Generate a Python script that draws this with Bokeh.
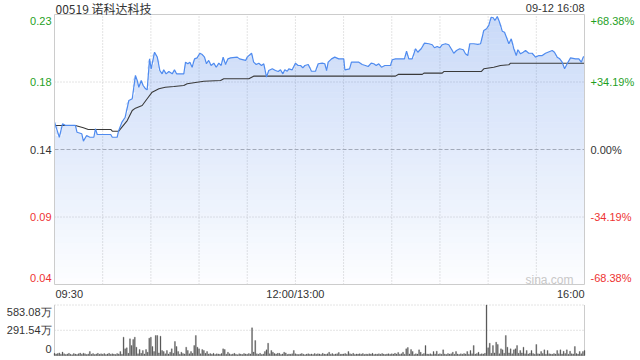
import numpy as np
from bokeh.plotting import figure
from bokeh.models import Range1d
from bokeh.core.properties import value
from bokeh.embed import file_html
from bokeh.resources import INLINE

# ---------------- data ----------------
title_text = "00519 诺科达科技"
stamp_text = "09-12 16:08"
prev_close = 0.137
pct_max = 0.6838          # axis half-range (+/-68.38%)

# minutes since 09:30 on a compressed session axis (12:00/13:00 at 150, 16:00 at 330)
price_min = [0, 3, 5, 7, 13, 14, 17, 18, 20, 22, 24.5, 25.5, 26.6, 35, 36, 39, 40, 42, 44, 46.3,
             48.4, 50.4, 51.5, 52.5, 54, 55.2, 56.7, 57.7, 59.2, 60.2, 62.3, 64, 65.6, 67, 68, 69.5,
             71.2, 73.3, 74.7, 76, 80.5, 81.6, 83, 84.3, 85.7, 87.2, 88.8, 90.5, 92, 93.4, 94.6, 96,
             97.5, 99.2, 100.7, 102.3, 103.8, 105, 106.5, 108, 109.6, 113.8, 115.2, 119, 120, 122.7,
             124, 125.6, 127.2, 128.9, 130.3, 131.4, 132, 133.4, 135.6, 137.6, 139.3, 140.7, 142.2,
             143.4, 144.9, 145.9, 148, 150, 151.7, 153.2, 154.6, 155.9, 158, 160, 162.5, 164.2, 166.7,
             168.3, 169.4, 170.4, 172.5, 174.5, 177, 180.1, 180.8, 183.7, 184.9, 189.5, 191.6, 193.6,
             195.3, 197.2, 198.8, 200.3, 201.9, 203.6, 205.7, 209.2, 210.3, 212.3, 215.4, 217.9, 219.2,
             220.6, 222.7, 224.8, 226.2, 228.3, 230.4, 233.1, 235.2, 236.6, 238.3, 239.9, 241.4, 243.5,
             245.5, 247, 248.6, 250.3, 252.3, 254.5, 255.9, 257.3, 258.6, 261.1, 263.6, 265.3, 266.3,
             267.3, 269, 270.4, 271.9, 273.2, 274.2, 275.7, 277.1, 278.8, 280.2, 281.4, 282.9, 284.4,
             286, 287.5, 288.5, 290.2, 291.8, 293.3, 295.3, 297.4, 299.5, 301.6, 303.7, 305.7, 309.9,
             311.3, 313, 314.6, 316.1, 317.6, 319.2, 321.3, 324.4, 326.5, 328, 329.2, 330]
price_val = [0.1560, 0.1455, 0.1548, 0.1537, 0.1537, 0.1490, 0.1479, 0.1428, 0.1467, 0.1455, 0.1455,
             0.1514, 0.1474, 0.1474, 0.1455, 0.1455, 0.1502, 0.1560, 0.1594, 0.1710, 0.1722, 0.1884,
             0.1849, 0.1802, 0.1849, 0.1814, 0.1791, 0.1784, 0.1999, 0.1930, 0.2045, 0.2011, 0.1918,
             0.1895, 0.1923, 0.1895, 0.1911, 0.1895, 0.1923, 0.1895, 0.1895, 0.1976, 0.1965, 0.1976,
             0.1941, 0.1999, 0.2006, 0.2038, 0.2029, 0.2011, 0.1965, 0.1988, 0.1953, 0.1969, 0.1941,
             0.1969, 0.1953, 0.2011, 0.1960, 0.1999, 0.2006, 0.2011, 0.1999, 0.1988, 0.2011, 0.2038,
             0.1976, 0.1960, 0.1969, 0.1953, 0.1965, 0.1906, 0.1872, 0.1918, 0.1930, 0.1918, 0.1911,
             0.1923, 0.1895, 0.1923, 0.1913, 0.1930, 0.1923, 0.1969, 0.1953, 0.1953, 0.1937, 0.1953,
             0.1960, 0.1913, 0.1913, 0.1965, 0.1969, 0.1965, 0.1918, 0.1976, 0.1999, 0.2011, 0.1999,
             0.1999, 0.1923, 0.1930, 0.1976, 0.1976, 0.1960, 0.1953, 0.1946, 0.1969, 0.1965, 0.1953,
             0.1965, 0.1941, 0.1953, 0.1953, 0.1993, 0.1999, 0.1999, 0.1999, 0.2052, 0.1999, 0.1999,
             0.2069, 0.2045, 0.2069, 0.2108, 0.2104, 0.2097, 0.2076, 0.2085, 0.2076, 0.2097, 0.2104,
             0.2097, 0.2069, 0.2038, 0.2057, 0.2069, 0.2062, 0.2034, 0.2022, 0.2104, 0.2104, 0.2099,
             0.2104, 0.2149, 0.2196, 0.2208, 0.2231, 0.2288, 0.2284, 0.2265, 0.2293, 0.2253, 0.2191,
             0.2184, 0.2149, 0.2104, 0.2138, 0.2069, 0.2022, 0.2062, 0.2034, 0.2045, 0.2057, 0.2038,
             0.2038, 0.2011, 0.2022, 0.2022, 0.2038, 0.2057, 0.2045, 0.2011, 0.1999, 0.1976, 0.1930,
             0.1965, 0.2006, 0.1999, 0.1999, 0.1976, 0.2011, 0.2015]

avg_min = [0, 13, 18, 21, 35, 36, 40, 42, 45.3, 48.4, 50.4, 54.6, 57.7, 60.8, 65, 69, 74.3, 80.5,
           82.6, 88.8, 93, 103.4, 105.4, 121, 124, 212.3, 214, 229, 230, 241.4, 242.4, 265.7, 267.3,
           273.5, 277.7, 282.9, 284, 330]
avg_val = [0.1537, 0.1537, 0.1521, 0.1509, 0.1509, 0.1497, 0.1497, 0.1525, 0.1571, 0.1641, 0.1657,
           0.1675, 0.1722, 0.1768, 0.1791, 0.1802, 0.1807, 0.1814, 0.1826, 0.1837, 0.1844, 0.1849,
           0.1861, 0.1861, 0.1879, 0.1879, 0.1891, 0.1891, 0.1900, 0.1900, 0.1911, 0.1911, 0.1930,
           0.1941, 0.1953, 0.1958, 0.1969, 0.1969]

# volume per minute (万股)
volume = [25, 18, 22, 30, 15, 40, 20, 12, 18, 25, 14, 10, 22, 16, 12, 20, 28, 15, 27, 20, 12, 18, 46, 15, 22, 12, 18, 25, 14, 20,
          15, 22, 12, 18, 25, 14, 20, 16, 12, 22, 18, 46, 15, 212, 77, 89, 25, 193, 115, 185, 212, 96, 20, 69, 25, 58, 18, 69, 38, 200,
          212, 104, 46, 231, 231, 30, 223, 58, 46, 20, 58, 18, 38, 77, 25, 162, 104, 46, 15, 38, 22, 18, 96, 58, 20, 46, 25, 115, 231, 96,
          77, 20, 69, 58, 25, 46, 18, 22, 15, 25, 12, 20, 18, 14, 22, 77, 69, 15, 38, 20, 12, 18, 25, 14, 10, 20, 16, 12, 22, 18,
          15, 22, 18, 320, 40, 173, 20, 15, 25, 12, 18, 46, 65, 142, 20, 58, 38, 22, 18, 25, 25, 12, 18, 38, 30, 12, 18, 15, 20, 58,
          20, 14, 12, 18, 22, 15, 10, 16, 20, 14, 18, 12, 22, 15, 20, 18, 12, 25, 16, 14, 20, 38, 15, 22, 12, 18, 20, 35, 14, 16,
          18, 22, 15, 46, 20, 14, 25, 12, 18, 16, 20, 15, 22, 12, 18, 14, 20, 16, 25, 12, 18, 15, 20, 14, 22, 16, 12, 18, 20, 15,
          20, 16, 25, 18, 35, 14, 20, 38, 15, 77, 92, 18, 69, 46, 12, 20, 16, 65, 38, 14, 22, 115, 18, 15, 20, 12, 46, 18, 50, 14,
          20, 15, 65, 18, 12, 22, 16, 20, 38, 14, 46, 18, 12, 20, 15, 22, 18, 46, 14, 58, 20, 115, 16, 22, 38, 15, 20, 18, 25, 583.08,
          89, 142, 25, 115, 30, 154, 127, 20, 77, 65, 25, 231, 96, 30, 77, 20, 65, 77, 115, 25, 58, 30, 96, 20, 58, 18, 25, 58, 22, 15,
          127, 20, 18, 46, 22, 65, 15, 58, 20, 18, 14, 22, 16, 58, 20, 65, 18, 50, 22, 65, 15, 50, 20, 18, 104, 22, 16, 46, 20, 46, 58]
vol_max = 583.08
vol_labels = ["583.08万", "291.54万", "0"]

x_ticks = [0, 150, 330]
x_labels = ["09:30", "12:00/13:00", "16:00"]
left_labels = ["0.23", "0.18", "0.14", "0.09", "0.04"]
right_labels = ["+68.38%", "+34.19%", "0.00%", "-34.19%", "-68.38%"]

# ---------------- layout / style ----------------
W, H = 640, 360
PL, PR = 54, 584          # plot box left/right (px)
PT, PB = 14, 284          # price box top/bottom (px)
VT, VB = 304.5, 355       # volume box top/bottom (px)
X0, X1 = 0, 330

FONT = "Liberation Sans"
GREEN = "#1f9f1f"
RED = "#ee3333"
DARK = "#333333"
GRID = "#c8c8c8"
FRAME = "#cccccc"
BLUE = "#4f8bef"

ymin = prev_close * (1 - pct_max)
ymax = prev_close * (1 + pct_max)
levels = [prev_close * (1 + k * pct_max / 2) for k in (2, 1, 0, -1, -2)]
lvl_colors = [GREEN, GREEN, DARK, RED, RED]

mpp = (X1 - X0) / (PR - PL)           # minutes per pixel
ypp = (ymax - ymin) / (PB - PT)       # price per pixel
vpp = vol_max / (VB - VT)             # volume per pixel

p = figure(width=W, height=H,
           x_range=Range1d(X0 - PL * mpp, X1 + (W - PR) * mpp),
           y_range=Range1d(ymin - (H - PB) * ypp, ymax + PT * ypp),
           x_axis_location=None, y_axis_location=None, title=None,
           toolbar_location=None, output_backend="svg",
           min_border=0, min_border_left=0, min_border_right=0,
           min_border_top=0, min_border_bottom=0)
p.extra_y_ranges = {"vol": Range1d(-(H - VB) * vpp, vol_max + VT * vpp)}
p.xgrid.visible = False
p.ygrid.visible = False
p.outline_line_color = None
p.background_fill_color = "white"
p.border_fill_color = "white"

# ---- price panel grid ----
vx = list(range(30, 330, 30))
p.segment(x0=vx, y0=ymin, x1=vx, y1=ymax, line_color=GRID, line_dash="1 2", line_width=1)
p.segment(x0=X0, y0=[levels[1], levels[3]], x1=X1, y1=[levels[1], levels[3]],
          line_color=GRID, line_dash="1 2", line_width=1)
p.segment(x0=[X0], y0=[levels[2]], x1=[X1], y1=[levels[2]],
          line_color="#b4b4b4", line_dash="4 2", line_width=1)

# ---- gradient area under price line (stacked bands) ----
pm = np.array(price_min, dtype=float)
pv = np.array(price_val, dtype=float)
N = 45
edges = np.linspace(ymin, ymax, N + 1)
for i in range(N):
    lo, hi = edges[i], edges[i + 1]
    t = (i + 0.5) / N
    p.varea(x=pm, y1=lo, y2=np.clip(pv, lo, hi), fill_color="#3c78e6",
            fill_alpha=0.01 + 0.27 * t)

p.line(avg_min, avg_val, line_color="#3a3a3a", line_width=1.1)
p.line(price_min, price_val, line_color=BLUE, line_width=1.2)

# price box
p.quad(left=[X0], right=[X1], bottom=[ymin], top=[ymax], fill_color=None,
       line_color=FRAME, line_width=1)

# ---- volume panel ----
p.segment(x0=X0, y0=[vol_max / 2, vol_max], x1=X1, y1=[vol_max / 2, vol_max],
          line_color=GRID, line_dash="1 2", line_width=1, y_range_name="vol")
p.segment(x0=[X0, X1, X0], y0=[0, 0, 0], x1=[X0, X1, X1], y1=[vol_max, vol_max, 0],
          line_color=FRAME, line_width=1, y_range_name="vol")
p.vbar(x=list(range(len(volume))), top=volume, bottom=0, width=0.6, fill_color="#555555",
       line_color="#555555", line_width=0.3, y_range_name="vol")


def txt(x, y, t, align, color=DARK, size="11px", font=FONT, xo=0, yo=0, yr="default"):
    p.text(x=[x], y=[y], text=[t], text_align=align, text_baseline="middle",
           text_color=color, text_font=value(font), text_font_size=value(size),
           x_offset=xo, y_offset=yo, y_range_name=yr)


# y labels (glyph offsets: positive y moves down)
for i, (lv, lt, rt, c) in enumerate(zip(levels, left_labels, right_labels, lvl_colors)):
    yo = 6 if i == 0 else (-7 if i == 4 else 0)
    txt(X0, lv, lt, "right", color=c, xo=-3, yo=yo)
    txt(X1, lv, rt, "left", color=c, xo=6, yo=yo)

# x labels
for xv, xt, al, xo in zip(x_ticks, x_labels, ["left", "center", "right"], [1, 0, 0]):
    txt(xv, ymin, xt, al, xo=xo, yo=9)

# title, time stamp, watermark
txt(X0, ymax, title_text, "left", size="12px", font="Noto Sans CJK SC", xo=1, yo=-6)
txt(X1, ymax, stamp_text, "right", yo=-7)
txt(X1, ymin, "sina.com", "right", color="#c8c8c8", size="12px", xo=-11, yo=-5)

# volume labels
for yv, t, yo in zip([vol_max, vol_max / 2, 0], vol_labels, [7, 0, -7]):
    txt(X0, yv, t, "right", xo=-3, yo=yo, yr="vol")

open("out.html", "w").write(file_html(p, INLINE))
